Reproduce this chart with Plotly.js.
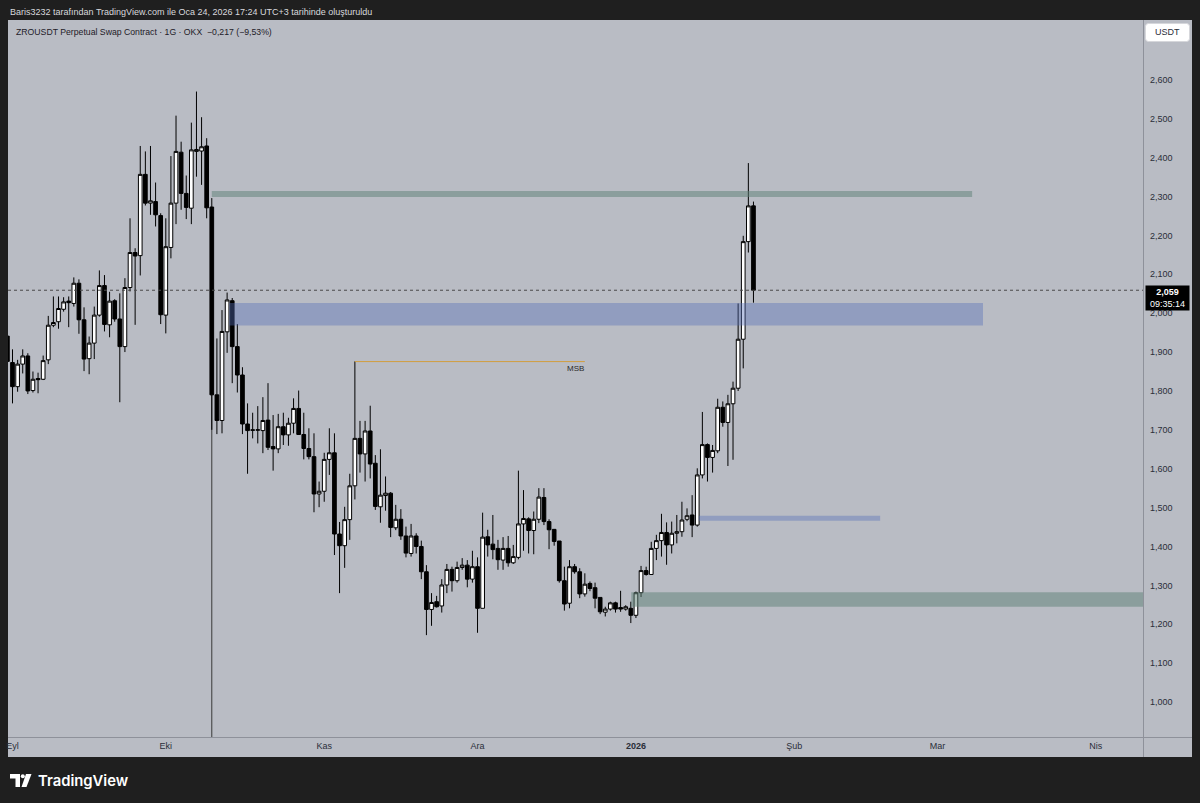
<!DOCTYPE html>
<html><head><meta charset="utf-8">
<script src="https://cdn.plot.ly/plotly-3.0.1.min.js"></script>
<style>html,body{margin:0;padding:0;background:#1f1f1f;}#chart{width:1200px;height:803px;}</style>
</head><body><div id="chart"></div>
<script>
// ---- data (daily candles, Aug 31 2025 .. Jan 24 2026) ----
const firstDay = '2025-08-31';
const open = [1941,
 1873,1811,1869,1890,1801,1832,1830,1880,1969,1978,
 2010,2031,2025,2077,1983,1883,1923,1995,2071,1970,
 2032,1985,1914,2066,2156,2148,2357,2283,2287,2251,
 1995,2169,2283,2414,2308,2270,2416,2417,2430,2273,
 1790,1724,1952,2032,1914,1841,1715,1700,1699,1698,
 1725,1657,1651,1708,1687,1717,1755,1688,1652,1631,1535,
 1542,1624,1641,1432,1402,1469,1556,1678,1638,1697,
 1614,1502,1531,1537,1448,1470,1427,1382,1427,1400,
 1335,1238,1258,1247,1301,1341,1312,1346,1352,1316,
 1348,1241,1425,1406,1395,1365,1395,1358,1372,1458,
 1471,1441,1470,1526,1464,1444,1414,1312,1254,1348,
 1335,1278,1305,1294,1269,1231,1239,1255,1243,1239,1241,
 1223,1281,1338,1328,1395,1415,1436,1404,1434,1438,
 1470,1481,1455,1584,1662,1629,1646,1758,1719,1767,
 1807,1933,2184,2276];
const high = [1955,
 1907,1880,1907,1897,1850,1847,1891,1993,2043,2043,
 2041,2043,2092,2087,2015,1940,2017,2110,2098,2055,
 2036,2051,2090,2244,2167,2430,2416,2430,2336,2257,
 2244,2404,2508,2441,2354,2490,2570,2504,2450,2296,
 1935,2008,2053,2039,1972,1861,1768,1744,1761,1784,
 1820,1738,1741,1744,1731,1781,1801,1744,1704,1691,1567,
 1641,1704,1691,1463,1502,1587,1876,1723,1723,1762,
 1635,1650,1580,1540,1507,1496,1451,1458,1434,1415,
 1352,1280,1273,1316,1355,1348,1361,1370,1365,1389,
 1372,1487,1443,1481,1417,1424,1427,1404,1595,1545,
 1475,1490,1550,1550,1470,1445,1414,1348,1365,1355,
 1344,1331,1310,1307,1269,1245,1258,1258,1286,1249,1258,
 1284,1350,1348,1412,1430,1484,1462,1464,1481,1515,
 1498,1532,1601,1746,1665,1661,1780,1773,1790,1824,
 2025,2199,2386,2287];
const low = [1860,
 1768,1798,1845,1792,1796,1794,1828,1869,1964,1960,
 2004,1964,2017,1947,1851,1843,1882,1991,1953,1938,
 1978,1771,1900,2056,1970,2097,2277,2253,2223,1972,
 1948,2141,2229,2266,2242,2229,2351,2330,2244,1700,
 1689,1691,1898,1820,1796,1689,1587,1678,1665,1640,
 1648,1595,1640,1661,1659,1691,1687,1624,1624,1488,1501,
 1515,1584,1378,1280,1345,1417,1521,1590,1567,1575,
 1494,1461,1492,1424,1442,1417,1372,1374,1382,1316,
 1172,1196,1243,1230,1280,1284,1307,1340,1295,1307,
 1178,1241,1374,1367,1340,1340,1348,1355,1367,1389,
 1382,1380,1460,1455,1393,1402,1307,1235,1241,1330,
 1267,1271,1285,1241,1226,1220,1235,1230,1232,1235,1203,
 1216,1270,1325,1327,1365,1374,1353,1382,1408,1425,
 1465,1424,1451,1575,1567,1590,1640,1708,1607,1623,
 1800,1858,2156,2027];
const close = [1876,
 1811,1869,1890,1800,1830,1829,1878,1969,1976,2012,
 2029,2027,2077,1983,1882,1923,1995,2071,1971,2031,
 1985,1914,2066,2156,2147,2357,2283,2289,2253,1996,
 2171,2283,2416,2308,2272,2420,2421,2428,2271,1790,
 1724,1953,2034,1914,1841,1715,1698,1699,1700,1724,
 1655,1651,1708,1687,1717,1755,1688,1652,1631,1535,1542,
 1624,1641,1432,1402,1469,1556,1678,1638,1697,1612,
 1503,1532,1537,1449,1470,1427,1383,1427,1400,1335,
 1238,1256,1245,1301,1341,1312,1346,1352,1316,1348,
 1241,1424,1404,1392,1366,1395,1358,1374,1458,1472,
 1441,1470,1527,1464,1443,1413,1312,1252,1348,1335,
 1278,1303,1292,1267,1232,1239,1255,1239,1239,1245,1223,
 1281,1338,1328,1395,1415,1436,1404,1434,1438,1468,
 1479,1455,1584,1662,1629,1647,1758,1719,1767,1807,
 1933,2184,2276,2059];

const monthTicks  = ['2025-09-01','2025-10-01','2025-11-01','2025-12-01','2026-01-01','2026-02-01','2026-03-01','2026-04-01'];
const monthLabels = ['Eyl','Eki','Kas','Ara','<b>2026</b>','Şub','Mar','Nis'];
const priceTicks  = [1000,1100,1200,1300,1400,1500,1600,1700,1800,1900,2000,2100,2200,2300,2400,2500,2600];

// drawn zones
const zoneStart  = ['2025-10-10 00:00','2025-10-13 10:00','2026-01-13 07:00','2025-12-31 02:00'];
const zoneEnd    = ['2026-03-07 19:00','2026-03-09 22:00','2026-02-17 19:00','2026-06-01 00:00'];
const zoneTop    = [2314, 2026, 1479, 1282];
const zoneBottom = [2299, 1968, 1466, 1245];
const zoneColor  = ['rgba(98,130,120,0.52)','rgba(85,110,185,0.40)','rgba(85,110,185,0.40)','rgba(98,130,120,0.52)'];
const msbStart = '2025-11-07', msbEnd = '2025-12-22', msbLevel = 1875.5;
const crashDay = '2025-10-10', crashBody = 1790;
const lastPrice = 2059;

// build dates
const dates = [];
{ const d0 = new Date(firstDay + 'T00:00:00Z');
  for (let i = 0; i < open.length; i++) {
    const d = new Date(d0.getTime() + i*86400000);
    dates.push(d.toISOString().slice(0,10));
  } }

// pixel->paper helpers
const PL=8, PR=1143, PT=20, PB=737;
const px = x => (x-PL)/(PR-PL);
const py = y => (PB-y)/(PB-PT);

const GRAY = '#b9bcc4', DARK = '#1f1f1f';
const FONT = 'Liberation Sans, Arial, sans-serif';

const trace = {
  type:'candlestick', x:dates, open:open, high:high, low:low, close:close,
  increasing:{line:{color:'#000', width:1}, fillcolor:'#ffffff'},
  decreasing:{line:{color:'#000', width:1}, fillcolor:'#000000'},
  whiskerwidth:0, hoverinfo:'skip', showlegend:false
};

const shapes = [];
// gray chart frame
shapes.push({type:'rect', xref:'paper', yref:'paper', x0:px(8), x1:px(1192), y0:py(757), y1:py(20), fillcolor:GRAY, line:{width:0}, layer:'below'});
// separators
shapes.push({type:'line', xref:'paper', yref:'paper', x0:px(8), x1:px(1192), y0:py(737.5), y1:py(737.5), line:{color:'#8e919a', width:1}});
shapes.push({type:'line', xref:'paper', yref:'paper', x0:px(1143.5), x1:px(1143.5), y0:py(757), y1:py(20), line:{color:'#8e919a', width:1}});
// crash vertical line
shapes.push({type:'line', xref:'x', yref:'y', x0:crashDay, x1:crashDay, y0:900, y1:crashBody, line:{color:'#3a3a3a', width:1}, layer:'below'});
// zones
for (let i=0;i<zoneStart.length;i++){
  shapes.push({type:'rect', xref:'x', yref:'y', x0:zoneStart[i], x1:zoneEnd[i], y0:zoneBottom[i], y1:zoneTop[i], fillcolor:zoneColor[i], line:{width:0}, layer:'above'});
}
// MSB line
shapes.push({type:'line', xref:'x', yref:'y', x0:msbStart, x1:msbEnd, y0:msbLevel, y1:msbLevel, line:{color:'#d19e3e', width:1}});
// last price dotted line
shapes.push({type:'line', xref:'paper', yref:'y', x0:0, x1:1, y0:lastPrice, y1:lastPrice, line:{color:'#4a4a4a', width:1, dash:'dot'}});
// USDT rounded box
function rrect(x0,y0,x1,y1,r){
  const X=px, Y=py;
  return `M${X(x0+r)},${Y(y0)} L${X(x1-r)},${Y(y0)} Q${X(x1)},${Y(y0)} ${X(x1)},${Y(y0+r)} L${X(x1)},${Y(y1-r)} Q${X(x1)},${Y(y1)} ${X(x1-r)},${Y(y1)} L${X(x0+r)},${Y(y1)} Q${X(x0)},${Y(y1)} ${X(x0)},${Y(y1-r)} L${X(x0)},${Y(y0+r)} Q${X(x0)},${Y(y0)} ${X(x0+r)},${Y(y0)} Z`;
}
shapes.push({type:'path', xref:'paper', yref:'paper', path:rrect(1145.5,23.5,1189.5,41.5,3), fillcolor:'#ffffff', line:{color:'#d6d7db', width:1}});
// TradingView logo
function poly(pts){ return 'M' + pts.map(p=>px(p[0])+','+py(p[1])).join(' L') + ' Z'; }
shapes.push({type:'path', xref:'paper', yref:'paper', path:poly([[10,774],[20,774],[20,787],[15.5,787],[15.5,778.5],[10,778.5]]), fillcolor:'#ffffff', line:{width:0}});
shapes.push({type:'circle', xref:'paper', yref:'paper', x0:px(20.8), x1:px(24.8), y0:py(778.2), y1:py(774.2), fillcolor:'#ffffff', line:{width:0}});
shapes.push({type:'path', xref:'paper', yref:'paper', path:poly([[26,774],[31.5,774],[26.5,787],[21.5,787]]), fillcolor:'#ffffff', line:{width:0}});

const annotations = [
  {xref:'paper', yref:'paper', x:px(8), y:py(11.5), xanchor:'left', yanchor:'middle', showarrow:false,
   text:'Baris3232 tarafından TradingView.com ile Oca 24, 2026 17:24 UTC+3 tarihinde oluşturuldu',
   font:{family:FONT, size:9, color:'#d8d9dd'}},
  {xref:'paper', yref:'paper', x:px(14), y:py(31.5), xanchor:'left', yanchor:'middle', showarrow:false,
   text:'ZROUSDT Perpetual Swap Contract · 1G · OKX  −0,217 (−9,53%)',
   font:{family:FONT, size:8.7, color:'#1e2028'}},
  {xref:'paper', yref:'paper', x:px(1167.5), y:py(32.5), xanchor:'center', yanchor:'middle', showarrow:false,
   text:'USDT', font:{family:FONT, size:9, color:'#2a2e39'}},
  {xref:'paper', yref:'paper', x:px(1145), y:py(285), xanchor:'left', yanchor:'top', showarrow:false,
   text:'<b>2,059</b><br>09:35:14', align:'center', bgcolor:'#000000', borderpad:1, width:41,
   font:{family:FONT, size:9, color:'#ffffff'}},
  {xref:'x', yref:'y', x:'2025-12-20 02:00', y:1859, xanchor:'center', yanchor:'middle', showarrow:false,
   text:'MSB', font:{family:FONT, size:8, color:'#2a2a2a'}},
  {xref:'paper', yref:'paper', x:px(36), y:py(780.5), xanchor:'left', yanchor:'middle', showarrow:false,
   text:'TradingView', font:{family:'Inter, Roboto, sans-serif', size:14.8, color:'#ffffff', weight:600}}
];

const layout = {
  width:1200, height:803,
  margin:{l:PL, r:1200-PR, t:PT, b:803-PB, pad:0},
  paper_bgcolor:DARK, plot_bgcolor:GRAY,
  showlegend:false, dragmode:false, hovermode:false,
  boxgap:0.1, boxgroupgap:0.2,
  font:{family:FONT, size:9, color:'#2a2e39'},
  xaxis:{type:'date', range:['2025-08-31 02:52','2026-04-10 05:30'], rangeslider:{visible:false},
         tickvals:monthTicks, ticktext:monthLabels, ticks:'', showgrid:false, zeroline:false, showline:false,
         tickfont:{family:FONT, size:9, color:'#2a2e39'}, ticklabelstandoff:2, fixedrange:true},
  yaxis:{side:'right', range:[910,2754], tickvals:priceTicks, tickformat:',d', ticks:'', showgrid:false,
         zeroline:false, showline:false, tickfont:{family:FONT, size:9, color:'#2a2e39'}, ticklabelstandoff:6, fixedrange:true},
  shapes:shapes, annotations:annotations
};

Plotly.newPlot('chart', [trace], layout, {staticPlot:true, displayModeBar:false});
</script>
</body></html>
